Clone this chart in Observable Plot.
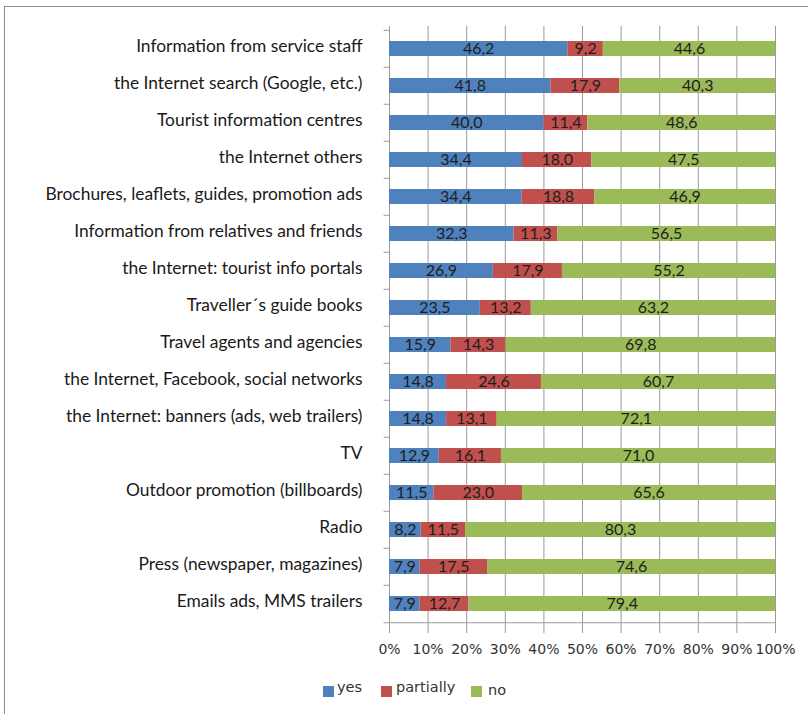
<!DOCTYPE html>
<html>
<head>
<meta charset="utf-8">
<script src="https://cdn.jsdelivr.net/npm/d3@7"></script>
<script src="https://cdn.jsdelivr.net/npm/@observablehq/plot@0.6"></script>
<style>
  html, body { margin: 0; padding: 0; background: #fff; overflow: hidden; }
  #wrap { position: relative; width: 808px; height: 714px; }
  #frame { position: absolute; left: 4px; top: 6px; width: 900px; height: 800px; border: 1px solid #8e8e8e; box-shadow: 1px 1px 2px rgba(0,0,0,0.25); }
  #chart { position: absolute; left: 0; top: 0; }
  #legend { position: absolute; left: 0; top: 0; font-family: "DejaVu Sans", sans-serif; font-size: 14.5px; color: #333; }
  .sw { position: absolute; width: 11px; height: 11px; }
  .lt { position: absolute; }
</style>
</head>
<body>
<div id="wrap">
  <div id="frame"></div>
  <div id="chart"></div>
  <div id="legend"></div>
</div>
<script>
const categories = [
  "Information from service staff",
  "the Internet search (Google, etc.)",
  "Tourist information centres",
  "the Internet others",
  "Brochures, leaflets, guides, promotion ads",
  "Information from relatives and friends",
  "the Internet: tourist info portals",
  "Traveller´s guide books",
  "Travel agents and agencies",
  "the Internet, Facebook, social networks",
  "the Internet: banners (ads, web trailers)",
  "TV",
  "Outdoor promotion (billboards)",
  "Radio",
  "Press (newspaper, magazines)",
  "Emails ads, MMS trailers"
];
const yes =       [46.2, 41.8, 40.0, 34.4, 34.4, 32.3, 26.9, 23.5, 15.9, 14.8, 14.8, 12.9, 11.5, 8.2, 7.9, 7.9];
const partially = [9.2, 17.9, 11.4, 18.0, 18.8, 11.3, 17.9, 13.2, 14.3, 24.6, 13.1, 16.1, 23.0, 11.5, 17.5, 12.7];
const no =        [44.6, 40.3, 48.6, 47.5, 46.9, 56.5, 55.2, 63.2, 69.8, 60.7, 72.1, 71.0, 65.6, 80.3, 74.6, 79.4];
const seriesNames = ["yes", "partially", "no"];
const seriesColors = ["#4F81BD", "#C0504D", "#9BBB59"];
const xTicks = [0, 0.1, 0.2, 0.3, 0.4, 0.5, 0.6, 0.7, 0.8, 0.9, 1];
const xTickLabels = ["0%", "10%", "20%", "30%", "40%", "50%", "60%", "70%", "80%", "90%", "100%"];

const seriesValues = [yes, partially, no];
const data = categories.flatMap((c, i) =>
  seriesNames.map((s, j) => ({cat: c, series: s, value: seriesValues[j][i]}))
);

const marginTop = 26, plotH = 600;
const half = plotH / categories.length / 2;
const fontFam = 'Lato, "Open Sans", sans-serif';

const chart = Plot.plot({
  width: 808,
  height: 668,
  marginLeft: 389,
  marginRight: 33,
  marginTop: marginTop,
  marginBottom: 668 - marginTop - plotH,
  style: {fontFamily: fontFam, fontSize: "14px", background: "transparent", color: "#222"},
  x: {domain: [0, 1], axis: null},
  y: {domain: categories, padding: 0, axis: null},
  color: {domain: seriesNames, range: seriesColors},
  marks: [
    Plot.ruleX(xTicks, {stroke: "#9a9a9a", strokeWidth: 1}),
    Plot.ruleY([categories[categories.length - 1]], {x1: 0, x2: 1, dy: half, stroke: "#9a9a9a"}),
    Plot.ruleY(categories, {x1: -0.014, x2: 0, dy: -half, stroke: "#9a9a9a"}),
    Plot.ruleY([categories[categories.length - 1]], {x1: -0.014, x2: 0, dy: half, stroke: "#9a9a9a"}),
    Plot.barX(data, Plot.stackX({
      x: "value", y: "cat", fill: "series", offset: "normalize", order: seriesNames,
      insetTop: 11, insetBottom: 11
    })),
    Plot.text(data, Plot.stackX({
      x: "value", y: "cat", z: "series", offset: "normalize", order: seriesNames,
      text: d => d.value.toFixed(1).replace(".", ","),
      fill: "#1e1e1e", fontSize: 16
    })),
    Plot.axisY({tickSize: 0, tickPadding: 27, fontSize: 17.4, fill: "#1a1a1a", dy: -3, label: null}),
    Plot.axisX(xTicks, {
      anchor: "bottom", tickSize: 7, tickPadding: 11, stroke: "#9a9a9a", label: null,
      tickFormat: (d, i) => xTickLabels[i], fontSize: 14, fontFamily: "DejaVu Sans, sans-serif", fill: "#333"
    })
  ]
});
document.getElementById("chart").appendChild(chart);

const legend = document.getElementById("legend");
const legendPos = [
  {sw: 323, tx: 337},
  {sw: 381, tx: 396},
  {sw: 471, tx: 488}
];
seriesNames.forEach((s, i) => {
  const sw = document.createElement("div");
  sw.className = "sw";
  sw.style.left = legendPos[i].sw + "px";
  sw.style.top = "686px";
  sw.style.background = seriesColors[i];
  legend.appendChild(sw);
  const t = document.createElement("div");
  t.className = "lt";
  t.style.left = legendPos[i].tx + "px";
  t.style.top = (i === 2 ? 682 : 679) + "px";
  t.textContent = s;
  legend.appendChild(t);
});
</script>
</body>
</html>
